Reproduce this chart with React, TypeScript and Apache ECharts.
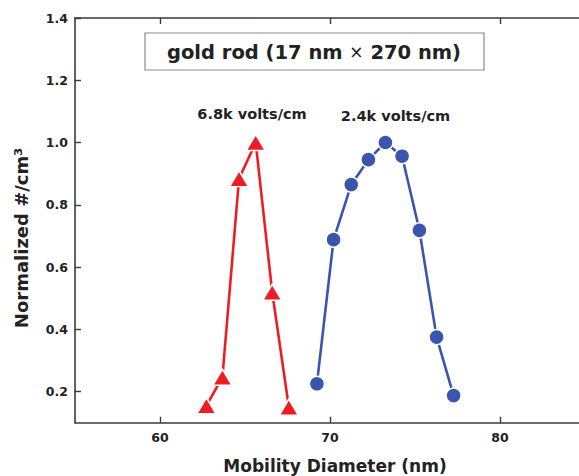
import React, { useEffect, useRef } from "react";
import * as echarts from "echarts";

const redX = [62.73, 63.67, 64.65, 65.63, 66.6, 67.58];
const redY = [0.155, 0.246, 0.884, 1.0, 0.519, 0.15];
const blueX = [69.23, 70.21, 71.25, 72.26, 73.26, 74.24, 75.26, 76.27, 77.27];
const blueY = [0.225, 0.688, 0.865, 0.945, 1.0, 0.956, 0.718, 0.375, 0.187];
const xTicks = [60, 70, 80];
const yTicks = [0.2, 0.4, 0.6, 0.8, 1.0, 1.2, 1.4];
const titleText = "gold rod (17 nm × 270 nm)";
const redLabel = "6.8k volts/cm";
const blueLabel = "2.4k volts/cm";
const xName = "Mobility Diameter (nm)";
const yName = "Normalized #/cm³";

const FONT = "'DejaVu Sans', Verdana, sans-serif";
const AX = "#3a3a3a";

export default function App() {
  const ref = useRef<HTMLDivElement>(null);
  useEffect(() => {
    if (!ref.current) return;
    const chart = echarts.init(ref.current, undefined, { renderer: "svg" });
    const axisCommon = {
      axisLine: { show: true, lineStyle: { color: AX, width: 1.6 } },
      axisTick: { show: true, inside: true, length: 6, lineStyle: { color: AX, width: 1.4 } },
      splitLine: { show: false },
    };
    chart.setOption({
      animation: false,
      backgroundColor: "#ffffff",
      grid: { left: 75, top: 18, width: 510, height: 404.7 },
      xAxis: [
        {
          type: "value", min: 55, max: 85, position: "bottom",
          ...axisCommon,
          axisTick: { ...axisCommon.axisTick, customValues: xTicks },
          axisLabel: {
            customValues: xTicks, margin: 8, color: "#222", fontFamily: FONT,
            fontWeight: "bold", fontSize: 12.5,
          },
        },
        {
          type: "value", min: 55, max: 85, position: "top",
          ...axisCommon,
          axisTick: { ...axisCommon.axisTick, customValues: xTicks },
          axisLabel: { show: false },
        },
      ],
      yAxis: [
        {
          type: "value", min: 0.1, max: 1.4, position: "left",
          ...axisCommon,
          axisTick: { ...axisCommon.axisTick, customValues: yTicks },
          axisLabel: {
            customValues: yTicks, margin: 7, color: "#222", fontFamily: FONT,
            fontWeight: "bold", fontSize: 12.5,
            formatter: (v: number) => v.toFixed(1),
          },
        },
        {
          type: "value", min: 0.1, max: 1.4, position: "right",
          ...axisCommon,
          axisTick: { ...axisCommon.axisTick, customValues: yTicks },
          axisLabel: { show: false },
        },
      ],
      series: [
        {
          type: "line",
          data: redX.map((x, i) => [x, redY[i]]),
          symbol: "triangle",
          symbolSize: [19, 16],
          lineStyle: { color: "#ee1c25", width: 2.6 },
          itemStyle: { color: "#ee1c25", borderColor: "#ffffff", borderWidth: 1.5 },
        },
        {
          type: "line",
          data: blueX.map((x, i) => [x, blueY[i]]),
          symbol: "circle",
          symbolSize: 15,
          lineStyle: { color: "#3a55ad", width: 2.6 },
          itemStyle: { color: "#3a55ad", borderColor: "#ffffff", borderWidth: 1.5 },
        },
      ],
      graphic: [
        {
          type: "rect",
          shape: { x: 145, y: 33, width: 339, height: 37 },
          style: { fill: "#ffffff", stroke: "#8a8a8a", lineWidth: 1.2 },
          z: 10,
        },
        {
          type: "text",
          x: 314, y: 52,
          z: 11,
          style: {
            text: "{b|gold rod (17 nm }{n|×}{b| 270 nm)}",
            align: "center", verticalAlign: "middle",
            rich: {
              b: { fontFamily: FONT, fontWeight: "bold", fontSize: 19.5, fill: "#222" },
              n: { fontFamily: FONT, fontWeight: "normal", fontSize: 17, fill: "#222" },
            },
          },
        },
        {
          type: "text", x: 252, y: 114, z: 11,
          style: {
            text: redLabel, align: "center", verticalAlign: "middle",
            fontFamily: FONT, fontWeight: "bold", fontSize: 14.5, fill: "#222",
          },
        },
        {
          type: "text", x: 395.5, y: 116, z: 11,
          style: {
            text: blueLabel, align: "center", verticalAlign: "middle",
            fontFamily: FONT, fontWeight: "bold", fontSize: 14.5, fill: "#222",
          },
        },
        {
          type: "text", x: 335, y: 466, z: 11,
          style: {
            text: xName, align: "center", verticalAlign: "middle",
            fontFamily: FONT, fontWeight: "bold", fontSize: 17, fill: "#222",
          },
        },
        {
          type: "text", x: 21, y: 238, rotation: Math.PI / 2, z: 11,
          style: {
            text: yName, align: "center", verticalAlign: "middle",
            fontFamily: FONT, fontWeight: "bold", fontSize: 18, fill: "#222",
          },
        },
      ],
    });
    return () => chart.dispose();
  }, []);
  return (
    <div style={{ position: "absolute", left: 0, top: 0, width: 579, height: 476, overflow: "hidden", background: "#fff" }}>
      <div ref={ref} style={{ width: 590, height: 476 }} />
    </div>
  );
}
